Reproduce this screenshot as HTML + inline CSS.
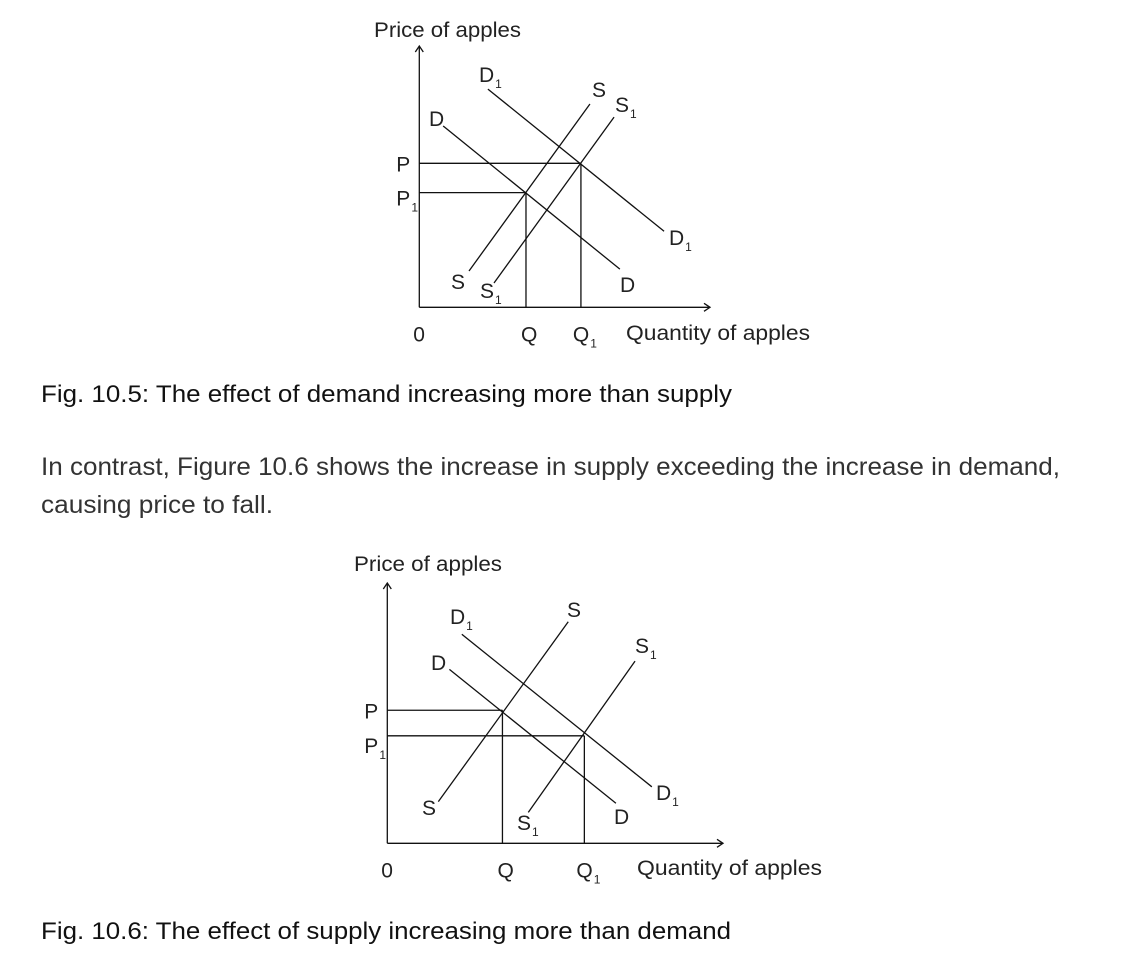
<!DOCTYPE html>
<html><head><meta charset="utf-8"><style>
html,body{margin:0;padding:0;background:#fff}
svg{display:block}
text{font-family:"Liberation Sans",sans-serif;fill:#222}
.lbl{font-size:21px}
.sub{font-size:12px}
.cap{font-size:24px;fill:#111}
.para{font-size:25px;fill:#333}
</style></head><body>
<svg id="page" width="1138" height="956" viewBox="0 0 1138 956" xmlns="http://www.w3.org/2000/svg">
<g id="chart1"></g>
<g id="chart2"></g>
<text class="cap" x="41" y="402" textLength="691" lengthAdjust="spacingAndGlyphs">Fig. 10.5: The effect of demand increasing more than supply</text>
<text class="para" x="41" y="475" textLength="1019" lengthAdjust="spacingAndGlyphs">In contrast, Figure 10.6 shows the increase in supply exceeding the increase in demand,</text>
<text class="para" x="41" y="513" textLength="232" lengthAdjust="spacingAndGlyphs">causing price to fall.</text>
<text class="cap" x="41" y="939" textLength="690" lengthAdjust="spacingAndGlyphs">Fig. 10.6: The effect of supply increasing more than demand</text>
</svg>
<script>
// Chart 1 data (quantity 0-100, price 0-100)
const c1Curves = ['D1','D','S','S1'];
const c1Start = [[23.6,83.5],[8.2,69.4],[58.7,77.8],[67.0,72.8]];
const c1End = [[84.2,29.1],[69.0,14.6],[17.1,13.9],[25.7,9.3]];
const c1Prices = [55.1,43.9];
const c1Quantities = [36.7,55.6];
// Chart 2 data
const c2Curves = ['D1','D','S','S1'];
const c2Start = [[22.2,80.3],[18.5,66.8],[53.9,85.1],[73.8,70.0]];
const c2End = [[78.8,21.7],[68.1,15.4],[15.2,16.0],[42.0,11.9]];
const c2Prices = [51.1,41.3];
const c2Quantities = [34.3,58.7];

const NS='http://www.w3.org/2000/svg';
function mk(tag,attrs,parent){const e=document.createElementNS(NS,tag);for(const k in attrs)e.setAttribute(k,attrs[k]);parent.appendChild(e);return e;}
function line(g,x1,y1,x2,y2,name){const l=mk('line',{x1,y1,x2,y2,stroke:'#111','stroke-width':1.3},g);

return l;}
function label(g,x,y,main,sub,name){const t=mk('text',{x,y,class:'lbl'},g);t.textContent=main;


if(sub){const s=mk('tspan',{class:'sub',dx:1,dy:6},t);s.textContent=sub;}}
function draw(gid,cfg,curves,starts,ends,prices,quants){
 const g=document.getElementById(gid);
 const X=v=>cfg.x0+v*cfg.sx, Y=v=>cfg.y0-v*cfg.sy;
 line(g,cfg.x0,cfg.y0,cfg.x0,cfg.top,'y-axis');
 line(g,cfg.x0,cfg.y0,cfg.right,cfg.y0,'x-axis');
 mk('path',{d:`M${cfg.x0-4},${cfg.top+6}L${cfg.x0},${cfg.top}L${cfg.x0+4},${cfg.top+6}`,fill:'none',stroke:'#111','stroke-width':1.3},g);
 mk('path',{d:`M${cfg.right-6},${cfg.y0-4}L${cfg.right},${cfg.y0}L${cfg.right-6},${cfg.y0+4}`,fill:'none',stroke:'#111','stroke-width':1.3},g);
 curves.forEach((c,i)=>{line(g,X(starts[i][0]),Y(starts[i][1]),X(ends[i][0]),Y(ends[i][1]),'curve-'+c.toLowerCase());});
 const names=['p','p1'];
 prices.forEach((p,i)=>{line(g,cfg.x0,Y(p),X(quants[i===0?cfg.pq[0]:cfg.pq[1]]),Y(p),'price-line-'+names[i]);});
 const qn=['q','q1'];
 quants.forEach((q,i)=>{line(g,X(q),cfg.y0,X(q),Y(prices[cfg.qp[i]]),'quantity-line-'+qn[i]);});
 // tick labels
 label(g,cfg.x0-23,Y(prices[0])+8,'P','','tick-p');
 label(g,cfg.x0-23,Y(prices[1])+(cfg.p1dy),'P','1','tick-p1');
 label(g,cfg.x0-6,cfg.y0+34,'0','','tick-origin');
 label(g,X(quants[0])-5,cfg.y0+34,'Q','','tick-q');
 label(g,X(quants[1])-8,cfg.y0+34,'Q','1','tick-q1');
}
draw('chart1',{x0:419.3,y0:307.3,sx:2.907,sy:2.613,top:46,right:710,pq:[1,0],qp:[1,0],p1dy:13},c1Curves,c1Start,c1End,c1Prices,c1Quantities);
draw('chart2',{x0:387.3,y0:843.3,sx:3.357,sy:2.603,top:583,right:723,pq:[0,1],qp:[0,1],p1dy:17},c2Curves,c2Start,c2End,c2Prices,c2Quantities);
const g1=document.getElementById('chart1'), g2=document.getElementById('chart2');
const t1=mk('text',{x:374,y:37,class:'lbl',textLength:147,lengthAdjust:'spacingAndGlyphs'},g1);t1.textContent='Price of apples';


const x1=mk('text',{x:626,y:340,class:'lbl',textLength:184,lengthAdjust:'spacingAndGlyphs'},g1);x1.textContent='Quantity of apples';


label(g1,479,82,'D','1','label-d1-top');
label(g1,592,97,'S','','label-s-top');
label(g1,615,112,'S','1','label-s1-top');
label(g1,429,126,'D','','label-d-top');
label(g1,669,245,'D','1','label-d1-bottom');
label(g1,451,289,'S','','label-s-bottom');
label(g1,480,298,'S','1','label-s1-bottom');
label(g1,620,292,'D','','label-d-bottom');
const t2=mk('text',{x:354,y:571,class:'lbl',textLength:148,lengthAdjust:'spacingAndGlyphs'},g2);t2.textContent='Price of apples';


const x2=mk('text',{x:637,y:875,class:'lbl',textLength:185,lengthAdjust:'spacingAndGlyphs'},g2);x2.textContent='Quantity of apples';


label(g2,450,624,'D','1','label-d1-top');
label(g2,567,617,'S','','label-s-top');
label(g2,431,670,'D','','label-d-top');
label(g2,635,653,'S','1','label-s1-top');
label(g2,422,815,'S','','label-s-bottom');
label(g2,517,830,'S','1','label-s1-bottom');
label(g2,614,824,'D','','label-d-bottom');
label(g2,656,800,'D','1','label-d1-bottom');
</script>
</body></html>
